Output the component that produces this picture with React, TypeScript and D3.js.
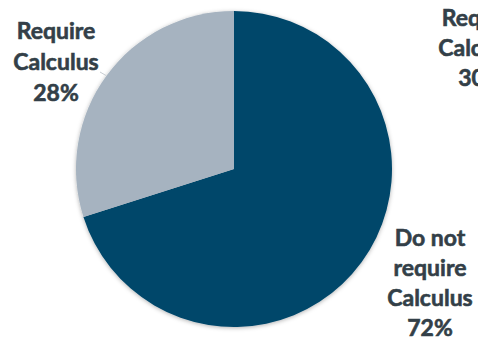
import React from "react";
import * as d3 from "d3";

const categories = ["Do not require Calculus", "Require Calculus"];
const sliceValues = [70.1, 29.9];
const percentLabels = ["72%", "28%"];
const colors = ["#01476A", "#A6B3C0"];
const rightLines = ["Do not", "require", "Calculus", "72%"];
const leftLines = ["Require", "Calculus", "28%"];
const cutLines = ["Require", "Calculus", "30%"];

const W = 478;
const H = 341;
const cx = 234;
const cy = 169;
const R = 158;
const FONT = "Lato, 'Open Sans', sans-serif";
const TEXT = "#333F48";

export default function App() {
  const pie = d3
    .pie<number>()
    .sort(null)
    .value((d) => d)
    .startAngle(0)
    .endAngle(2 * Math.PI);
  const arcs = pie(sliceValues);
  const arc = d3.arc<d3.PieArcDatum<number>>().innerRadius(0).outerRadius(R);

  const renderLabel = (lines: string[], x: number, y0: number, dy: number) => (
    <text
      x={x}
      textAnchor="middle"
      fontFamily={FONT}
      fontWeight={700}
      fontSize={23}
      fill={TEXT}
      stroke={TEXT}
      strokeWidth={0.6}
    >
      {lines.map((l, i) => (
        <tspan key={i} x={x} y={y0 + i * dy}>
          {l}
        </tspan>
      ))}
    </text>
  );

  return (
    <svg
      width={W}
      height={H}
      style={{ position: "absolute", left: 0, top: 0, background: "#fff" }}
    >
      <defs>
        <filter id="sh" x="-10%" y="-10%" width="120%" height="120%">
          <feDropShadow dx="0" dy="1" stdDeviation="2" floodColor="#000" floodOpacity="0.3" />
        </filter>
      </defs>
      <g transform={`translate(${cx},${cy})`} filter="url(#sh)">
        {arcs.map((a, i) => (
          <path key={categories[i]} d={arc(a) || ""} fill={colors[i]} />
        ))}
      </g>
      <line x1={100} y1={72} x2={106} y2={75.5} stroke="#C8CDD2" strokeWidth={1} />
      {renderLabel(leftLines, 56, 39, 31)}
      {renderLabel(rightLines, 430, 246, 30)}
      {renderLabel(cutLines, 481, 26, 30)}
      <title>{percentLabels.join(" / ")}</title>
    </svg>
  );
}
